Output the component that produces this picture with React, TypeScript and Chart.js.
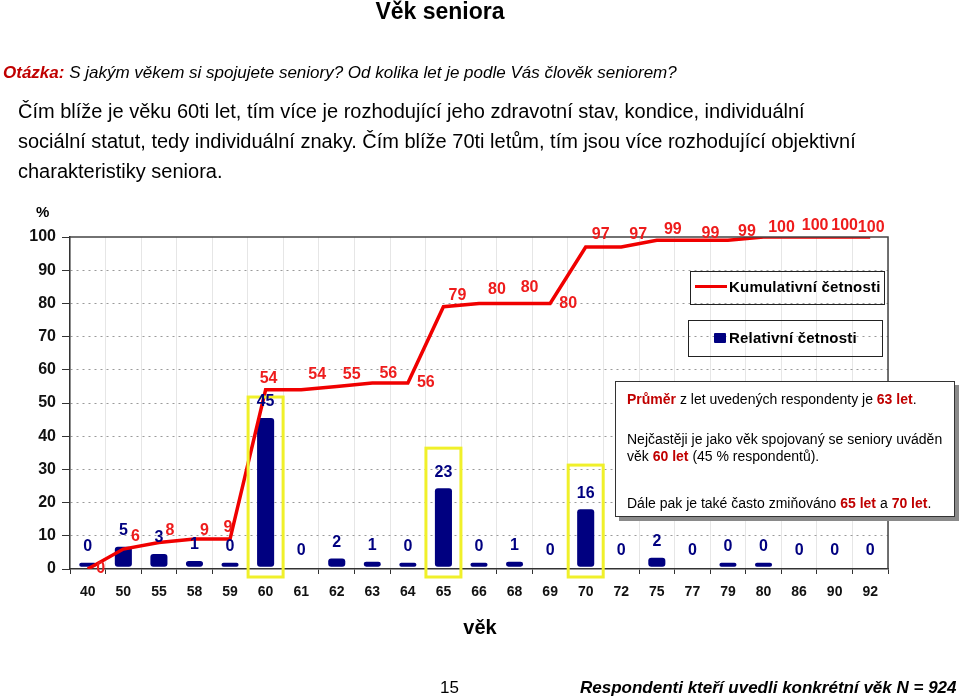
import React, { useEffect, useRef } from "react";
import { Chart, registerables } from "chart.js";

Chart.register(...registerables);

// ---------- data ----------
const ages = ["40", "50", "55", "58", "59", "60", "61", "62", "63", "64", "65", "66", "68", "69", "70", "72", "75", "77", "79", "80", "86", "90", "92"];
// relative frequency labels (rounded, as printed)
const relLabels = [0, 5, 3, 1, 0, 45, 0, 2, 1, 0, 23, 0, 1, 0, 16, 0, 2, 0, 0, 0, 0, 0, 0];
// relative frequency bar heights (estimated, %)
const relBars: (number | null)[] = [1.2, 6.0, 3.8, 1.7, 1.2, 44.8, null, 2.5, 1.5, 1.2, 23.6, 1.2, 1.5, null, 17.3, null, 2.7, null, 1.2, 1.2, null, null, null];
// cumulative frequency (%)
const cumulative = [0, 6, 8, 9, 9, 54, 54, 55, 56, 56, 79, 80, 80, 80, 97, 97, 99, 99, 99, 100, 100, 100, 100];
const yTicks = [0, 10, 20, 30, 40, 50, 60, 70, 80, 90, 100];
// highlighted categories and the top of their frame (in % units)
const highlightAges = ["60", "65", "70"];
const highlightTops = [51.8, 36.4, 31.3];

// ---------- style ----------
const FONT = "Arial, 'Liberation Sans', Helvetica, sans-serif";
const NAVY = "#000080";
const RED = "#f00000";
const TEXT_RED = "#c00000";
const BAR_BASE = 0.7;
// label offsets for cumulative labels (px, relative to the point)
const cumLabelDx = [13, 12, 11, 10, -2, 3, 16, 15, 16, 18, 14, 18, 15, 18, 15, 17, 16, 18, 19, 18, 16, 10, 1];
const cumLabelDy = [0, -12, -12, -9, -12, -11, -15, -12, -9, 0, -11, -14, -16, 0, -12, -12, -11, -7, -9, -9, -11, -11, -9];

const plotFrame = {
  id: "plotFrame",
  afterDatasetsDraw(chart: any) {
    const { ctx, chartArea, scales } = chart;
    const x = scales.x;
    const y = scales.y;
    ctx.save();
    // frame top / right
    ctx.strokeStyle = "#444";
    ctx.lineWidth = 1.5;
    ctx.beginPath();
    ctx.moveTo(chartArea.left, chartArea.top);
    ctx.lineTo(chartArea.right, chartArea.top);
    ctx.lineTo(chartArea.right, chartArea.bottom);
    ctx.stroke();

    // yellow highlight frames
    ctx.strokeStyle = "#f0f02a";
    ctx.lineWidth = 3;
    highlightAges.forEach((a, k) => {
      const i = ages.indexOf(a);
      const cx = x.getPixelForValue(i);
      const top = y.getPixelForValue(highlightTops[k]);
      ctx.strokeRect(cx - 17.5, top, 35, chartArea.bottom + 8 - top);
    });

    // labels
    ctx.textAlign = "center";
    ctx.textBaseline = "middle";
    ctx.font = `bold 16px ${FONT}`;
    ctx.fillStyle = NAVY;
    ages.forEach((_, i) => {
      const cx = x.getPixelForValue(i);
      const top = y.getPixelForValue(BAR_BASE + (relBars[i] ?? 0));
      ctx.fillText(String(relLabels[i]), cx, top - 16);
    });
    ctx.fillStyle = "#ee1c1c";
    cumulative.forEach((v, i) => {
      const cx = x.getPixelForValue(i);
      const cy = y.getPixelForValue(v);
      ctx.fillText(String(v), cx + cumLabelDx[i], cy + cumLabelDy[i]);
    });
    ctx.restore();
  },
};

function ChartBox() {
  const ref = useRef<HTMLCanvasElement | null>(null);
  useEffect(() => {
    if (!ref.current) return;
    const chart = new Chart(ref.current, {
      type: "bar",
      data: {
        labels: ages,
        datasets: [
          {
            type: "line",
            label: "Kumulativní četnosti",
            data: cumulative,
            borderColor: RED,
            backgroundColor: RED,
            borderWidth: 3.5,
            pointRadius: 0,
            tension: 0,
            order: 0,
          } as any,
          {
            type: "bar",
            label: "Relativní četnosti",
            data: relBars.map((v) => (v == null ? null : [BAR_BASE, BAR_BASE + v])),
            backgroundColor: NAVY,
            borderRadius: 3,
            borderSkipped: false,
            barPercentage: 0.48,
            categoryPercentage: 1,
            order: 1,
          } as any,
        ],
      },
      options: {
        responsive: false,
        animation: false,
        layout: { padding: { top: 237, left: 0, right: 72, bottom: 89 } },
        plugins: { legend: { display: false }, tooltip: { enabled: false }, title: { display: false } },
        scales: {
          x: {
            offset: true,
            afterFit: (s: any) => { s.height = 40; },
            grid: { color: "#e6e6e6", lineWidth: 1, tickColor: "#333", tickLength: 5, offset: true },
            border: { color: "#333", width: 1.5 },
            ticks: { color: "#111", padding: 10, font: { family: FONT, size: 14, weight: "bold" }, maxRotation: 0, autoSkip: false },
          },
          y: {
            min: 0,
            max: 100,
            afterFit: (s: any) => { s.width = 70; },
            afterBuildTicks: (s: any) => { s.ticks = yTicks.map((v) => ({ value: v })); },
            grid: {
              color: (c: any) => (c.tick && (c.tick.value === 0 || c.tick.value === 100) ? "rgba(0,0,0,0)" : "#9a9a9a"),
              tickColor: "#333",
              tickLength: 8,
              lineWidth: 1,
            },
            border: { color: "#333", width: 1.5, dash: [2, 4] },
            ticks: { color: "#111", padding: 6, font: { family: FONT, size: 16, weight: "bold" } },
          },
        },
      },
      plugins: [plotFrame],
    });
    return () => chart.destroy();
  }, []);
  return <canvas ref={ref} width={960} height={698} style={{ position: "absolute", left: 0, top: 0 }} />;
}

const abs = (left: number, cy: number, size: number, extra: React.CSSProperties = {}): React.CSSProperties => ({
  position: "absolute",
  left,
  top: cy - size * 0.6,
  lineHeight: `${size * 1.2}px`,
  fontSize: size,
  fontFamily: FONT,
  whiteSpace: "nowrap",
  color: "#000",
  ...extra,
});

const red: React.CSSProperties = { color: TEXT_RED, fontWeight: "bold" };

export default function App() {
  return (
    <div style={{ position: "fixed", left: 0, top: 0, width: 960, height: 698, background: "#fff", overflow: "hidden" }}>
      <ChartBox />
      <div style={abs(0, 12, 23, { width: 880, textAlign: "center", fontWeight: "bold" })}>Věk seniora</div>
      <div style={abs(3, 73, 17, { fontStyle: "italic" })}>
        <span style={{ color: TEXT_RED, fontWeight: "bold" }}>Otázka:</span> S jakým věkem si spojujete seniory? Od kolika let je podle Vás člověk seniorem?
      </div>
      <div style={abs(18, 111, 20)}>Čím blíže je věku 60ti let, tím více je rozhodující jeho zdravotní stav, kondice, individuální</div>
      <div style={abs(18, 141, 20)}>sociální statut, tedy individuální znaky. Čím blíže 70ti letům, tím jsou více rozhodující objektivní</div>
      <div style={abs(18, 171, 20)}>charakteristiky seniora.</div>
      <div style={abs(36, 212, 15, { fontWeight: "bold" })}>%</div>

      {/* legend */}
      <div style={{ position: "absolute", left: 690, top: 271, width: 195, height: 34, boxSizing: "border-box", border: "1.5px solid #222" }} />
      <div style={{ position: "absolute", left: 695, top: 284.5, width: 32, height: 3.5, background: RED }} />
      <div style={abs(729, 287, 15, { fontWeight: "bold", letterSpacing: 0.2 })}>Kumulativní četnosti</div>
      <div style={{ position: "absolute", left: 688, top: 320, width: 195, height: 37, boxSizing: "border-box", border: "1.5px solid #222" }} />
      <div style={{ position: "absolute", left: 714, top: 333, width: 12, height: 10, background: NAVY, borderRadius: 1 }} />
      <div style={abs(729, 338, 15, { fontWeight: "bold", letterSpacing: 0.2 })}>Relativní četnosti</div>

      {/* info box */}
      <div style={{ position: "absolute", left: 615, top: 381, width: 340, height: 136, boxSizing: "border-box", border: "1px solid #333", background: "#fff", boxShadow: "4px 4px 0 #8a8a8a" }}>
        <div style={abs(11, 17, 14)}>
          <span style={red}>Průměr</span> z let uvedených respondenty je <span style={red}>63 let</span>.
        </div>
        <div style={abs(11, 57, 14)}>Nejčastěji je jako věk spojovaný se seniory uváděn</div>
        <div style={abs(11, 74, 14)}>
          věk <span style={red}>60 let</span> (45 % respondentů).
        </div>
        <div style={abs(11, 121, 14)}>
          Dále pak je také často zmiňováno <span style={red}>65 let</span> a <span style={red}>70 let</span>.
        </div>
      </div>

      <div style={abs(0, 627, 20, { width: 960, textAlign: "center", fontWeight: "bold" })}>věk</div>
      <div style={abs(440, 688, 17)}>15</div>
      <div style={abs(580, 688, 17, { fontWeight: "bold", fontStyle: "italic" })}>Respondenti kteří uvedli konkrétní věk N = 924</div>
    </div>
  );
}
